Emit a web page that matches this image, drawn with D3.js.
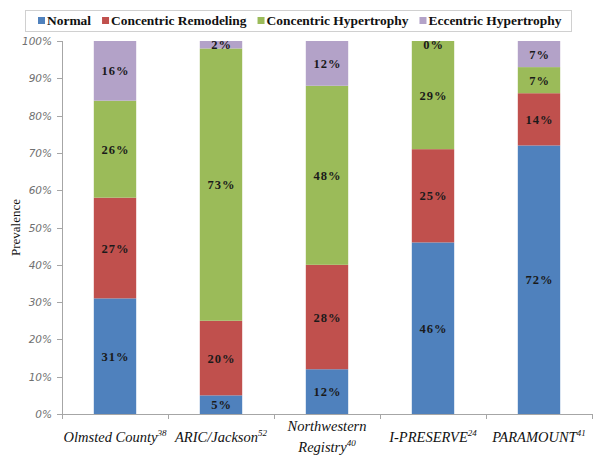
<!DOCTYPE html>
<html><head><meta charset="utf-8">
<script src="https://cdn.jsdelivr.net/npm/d3@7"></script>
<style>body{margin:0;background:#fff}svg{display:block}</style>
</head><body>
<svg id="c" width="602" height="460"></svg>
<script>
const categories = ["Olmsted County", "ARIC/Jackson", "Northwestern Registry", "I-PRESERVE", "PARAMOUNT"];
const categoryLines = [["Olmsted County"], ["ARIC/Jackson"], ["Northwestern", "Registry"], ["I-PRESERVE"], ["PARAMOUNT"]];
const refs = ["38", "52", "40", "24", "41"];
const seriesNames = ["Normal", "Concentric Remodeling", "Concentric Hypertrophy", "Eccentric Hypertrophy"];
const normal = [31, 5, 12, 46, 72];
const concentricRemodeling = [27, 20, 28, 25, 14];
const concentricHypertrophy = [26, 73, 48, 29, 7];
const eccentricHypertrophy = [16, 2, 12, 0, 7];
const yTicks = [0, 10, 20, 30, 40, 50, 60, 70, 80, 90, 100];
const colors = ["#4f81bd", "#c0504d", "#9bbb59", "#b3a2c8"];

const SERIF = '"Liberation Serif", "Times New Roman", serif';
const SANS = '"DejaVu Sans", sans-serif';
const series = [normal, concentricRemodeling, concentricHypertrophy, eccentricHypertrophy];
const svg = d3.select("#c");
const mLeft = 62, mRight = 592, mTop = 41, mBottom = 414;

const x = d3.scaleBand().domain(categories).range([mLeft, mRight]).paddingInner(0.6).paddingOuter(0.3);
const y = d3.scaleLinear().domain([0, 100]).range([mBottom, mTop]);

const rows = categories.map((c, i) => {
  const r = {cat: c};
  seriesNames.forEach((s, j) => r[s] = series[j][i]);
  return r;
});
const stacked = d3.stack().keys(seriesNames)(rows);

const axisColor = "#a6a6a6";
svg.append("line").attr("x1", mLeft + 0.5).attr("x2", mLeft + 0.5).attr("y1", y(100)).attr("y2", y(0)).attr("stroke", axisColor);
svg.append("line").attr("x1", mLeft).attr("x2", mRight).attr("y1", y(0) + 0.5).attr("y2", y(0) + 0.5).attr("stroke", axisColor);
yTicks.forEach(t => {
  svg.append("line").attr("x1", mLeft - 5).attr("x2", mLeft).attr("y1", Math.round(y(t)) + 0.5).attr("y2", Math.round(y(t)) + 0.5).attr("stroke", axisColor);
  svg.append("text").attr("x", mLeft - 10).attr("y", y(t) + 4).attr("text-anchor", "end")
    .style("font-family", SANS).style("font-style", "italic").style("font-size", "10.5px")
    .attr("fill", "#707070").text(t + "%");
});
const bounds = categories.map((c, i) => mLeft + i * (mRight - mLeft) / categories.length);
bounds.push(mRight);
bounds.forEach(b => {
  svg.append("line").attr("x1", Math.round(b) + 0.5).attr("x2", Math.round(b) + 0.5).attr("y1", y(0)).attr("y2", y(0) + 5).attr("stroke", axisColor);
});

stacked.forEach((layer, j) => {
  svg.append("g").attr("fill", colors[j]).selectAll("rect").data(layer).join("rect")
    .attr("x", d => x(d.data.cat)).attr("width", x.bandwidth())
    .attr("y", d => y(d[1])).attr("height", d => y(d[0]) - y(d[1]));
});

stacked.forEach((layer, j) => {
  svg.append("g").selectAll("text").data(layer).join("text")
    .attr("x", d => x(d.data.cat) + x.bandwidth() / 2 + 0.5)
    .attr("y", d => {
      const v = d[1] - d[0];
      let cy = (y(d[0]) + y(d[1])) / 2;
      if (v < 4) cy = y(d[1]) + 3;
      return cy + 4.5;
    })
    .attr("text-anchor", "middle")
    .style("font-family", SERIF).style("font-weight", "bold").style("font-size", "12.5px")
    .style("letter-spacing", "1px")
    .attr("fill", "#1a1a1a")
    .text(d => (d[1] - d[0]) + "%");
});

categories.forEach((c, i) => {
  const lines = categoryLines[i];
  const cx = x(c) + x.bandwidth() / 2;
  const y0 = lines.length === 1 ? 442 : 431;
  lines.forEach((ln, k) => {
    const t = svg.append("text").attr("x", cx).attr("y", y0 + k * 21).attr("text-anchor", "middle")
      .style("font-family", SERIF).style("font-style", "italic").style("font-size", "14.5px")
      .attr("fill", "#111");
    t.append("tspan").text(ln);
    if (k === lines.length - 1) {
      t.append("tspan").style("font-size", "9px").attr("dy", -6).text(refs[i]);
    }
  });
});

svg.append("text").attr("transform", `translate(20,${(y(0) + y(100)) / 2}) rotate(-90)`)
  .attr("text-anchor", "middle").style("font-family", SERIF).style("font-size", "13px")
  .attr("fill", "#111").text("Prevalence");

// legend
svg.append("rect").attr("x", 25.5).attr("y", 10.5).attr("width", 546).attr("height", 21)
  .attr("fill", "#fff").attr("stroke", "#d0d0d0");
const legTexts = seriesNames.map(s => svg.append("text").attr("y", 25)
  .style("font-family", SERIF).style("font-weight", "bold").style("font-size", "15px")
  .attr("fill", "#111").text(s));
const totalW = d3.sum(legTexts, t => t.node().getComputedTextLength());
const avail = (562 - 38) - 4 * 9 - 3 * 11;
const fs = Math.min(15, 15 * avail / totalW);
let lx = 38;
legTexts.forEach((t, j) => {
  t.style("font-size", fs + "px");
  svg.append("rect").attr("x", lx).attr("y", 17).attr("width", 7).attr("height", 7).attr("fill", colors[j]);
  t.attr("x", lx + 9);
  lx += 9 + t.node().getComputedTextLength() + 11;
});
</script>
</body></html>
